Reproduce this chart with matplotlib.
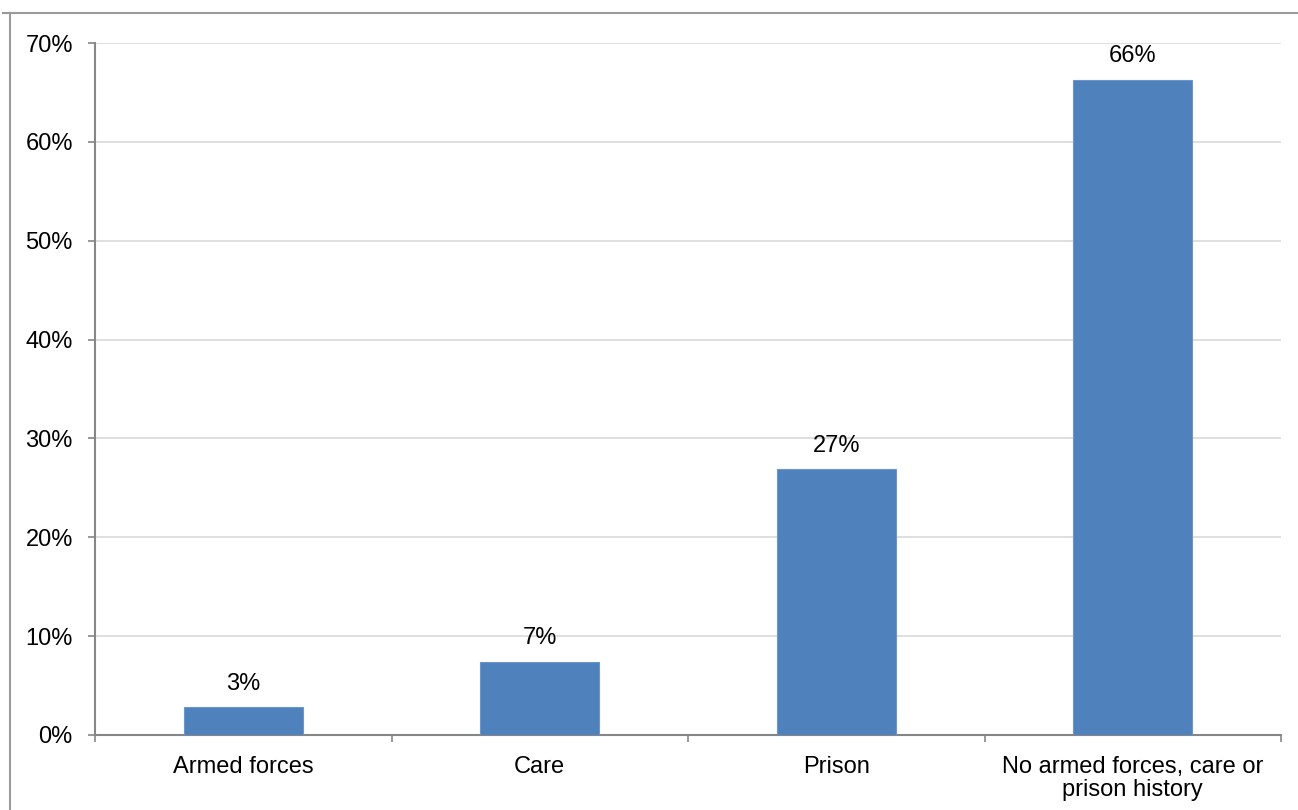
import matplotlib.pyplot as plt
from matplotlib.lines import Line2D

plt.rcParams['font.family'] = ['Liberation Sans', 'DejaVu Sans']

# ============================
# DATA
# ============================
categories = ["Armed forces", "Care", "Prison",
              "No armed forces, care or\nprison history"]
shares = [2.8, 7.4, 26.9, 66.3]
y_ticks = [0, 10, 20, 30, 40, 50, 60, 70]

BAR_COLOR = "#4f81bd"
AXIS_GREY = "#868686"
GRID_GREY = "#d9d9d9"
FS = 17

# ============================
# DRAW CHART
# ============================
fig = plt.figure(figsize=(12.98, 8.10), dpi=100)
ax = fig.add_axes([0.0732, 0.0926, 0.9137, 0.8543])

x = list(range(len(categories)))
bars = ax.bar(x, shares, width=0.4, color=BAR_COLOR,
              edgecolor="#6d95c9", linewidth=0.8, zorder=3)

# value labels above each bar
for xi, v in zip(x, shares):
    ax.annotate(f"{v:.0f}%", (xi, v), xytext=(0, 9),
                textcoords="offset points", ha="center", va="bottom",
                fontsize=FS, color="black")

# axes and grid
ax.set_xlim(-0.5, len(categories) - 0.5)
ax.set_ylim(0, 70)
ax.set_yticks(y_ticks)
ax.set_yticklabels([f"{t}%" for t in y_ticks], fontsize=FS)
ax.yaxis.grid(True, color=GRID_GREY, linewidth=1.2, zorder=0)
ax.set_axisbelow(True)

ax.set_xticks(x)
ax.set_xticklabels(categories, fontsize=FS, linespacing=1.05)
ax.tick_params(axis="x", length=0, pad=15)
ax.tick_params(axis="y", length=5, width=1.2, color=AXIS_GREY, pad=11)

# category boundary ticks on the x axis
ax.set_xticks([i - 0.5 for i in range(len(categories) + 1)], minor=True)
ax.tick_params(axis="x", which="minor", length=5, width=1.2,
               color=AXIS_GREY)

for side in ["top", "right"]:
    ax.spines[side].set_visible(False)
for side in ["left", "bottom"]:
    ax.spines[side].set_color(AXIS_GREY)
    ax.spines[side].set_linewidth(1.5)

# chart area frame
fig.add_artist(Line2D([3 / 1298, 1], [1 - 13 / 810, 1 - 13 / 810],
                      transform=fig.transFigure, color="#9a9a9a", lw=1.5))
fig.add_artist(Line2D([10 / 1298, 10 / 1298], [0, 1 - 13 / 810],
                      transform=fig.transFigure, color="#9a9a9a", lw=1.5))

fig.savefig("out.png", dpi=100)
